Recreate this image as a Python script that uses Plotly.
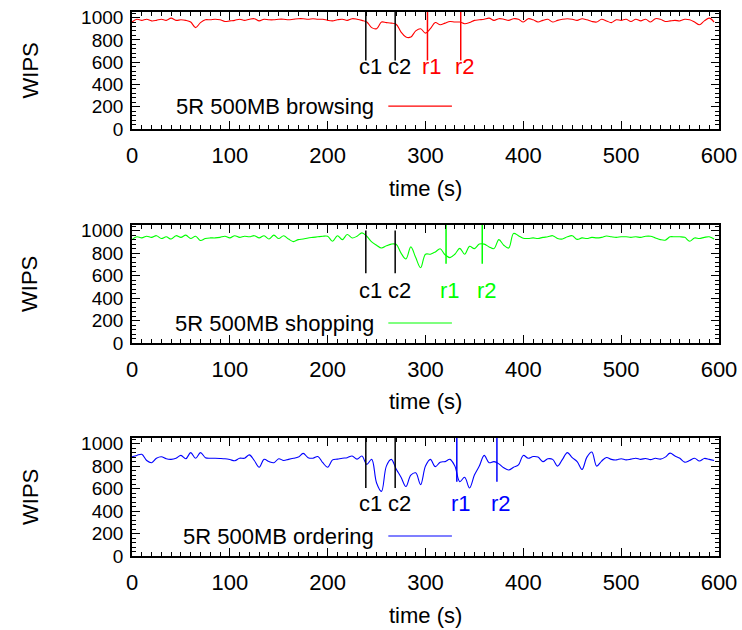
import plotly.graph_objects as go

# ---- data -------------------------------------------------------------
time_s = list(range(0, 600, 5))

browsing = [960, 985, 975, 985, 970, 975, 985, 975, 995, 975,
            980, 975, 960, 910, 955, 980, 980, 985, 980, 965,
            970, 975, 985, 975, 985, 990, 970, 985, 980, 980,
            985, 985, 980, 985, 990, 990, 985, 990, 985, 985,
            975, 970, 980, 985, 975, 990, 985, 975, 960, 910,
            900, 960, 955, 950, 940, 870, 825, 825, 880, 900,
            860, 900, 955, 935, 950, 965, 960, 960, 945, 955,
            975, 980, 985, 995, 975, 990, 985, 975, 990, 985,
            960, 990, 980, 960, 975, 985, 960, 975, 985, 990,
            985, 975, 990, 980, 965, 960, 985, 970, 955, 980,
            975, 985, 965, 985, 970, 985, 960, 990, 985, 965,
            970, 975, 970, 985, 980, 960, 935, 970, 995, 960]

shopping = [920, 945, 935, 950, 940, 955, 930, 945, 925, 955,
            940, 960, 930, 950, 912, 930, 935, 935, 940, 950,
            935, 955, 940, 950, 945, 955, 935, 955, 925, 960,
            930, 955, 925, 902, 920, 925, 935, 940, 945, 950,
            950, 905, 955, 920, 965, 935, 950, 980, 950, 900,
            870, 845, 865, 880, 878, 800, 748, 855, 760, 670,
            790, 790, 810, 838, 785, 760, 790, 842, 790, 860,
            840, 880, 880, 855, 840, 920, 870, 845, 975, 955,
            932, 930, 935, 930, 940, 945, 955, 930, 925, 945,
            955, 922, 935, 930, 940, 935, 940, 952, 945, 940,
            945, 945, 940, 945, 940, 950, 950, 935, 920, 915,
            945, 945, 945, 940, 905, 935, 930, 940, 945, 925]

ordering = [883, 895, 905, 850, 830, 870, 883, 865, 860, 870,
            895, 865, 920, 870, 920, 875, 870, 870, 868, 865,
            858, 848, 870, 870, 900, 850, 790, 860, 840, 830,
            865, 850, 860, 870, 880, 913, 875, 870, 885, 830,
            790, 855, 862, 870, 875, 890, 862, 889, 815, 860,
            650, 575, 800, 860, 775, 700, 618, 720, 740, 635,
            800, 860, 795, 835, 840, 860, 800, 662, 700, 605,
            720, 800, 895, 830, 840, 820, 785, 765, 790, 810,
            895, 870, 885, 880, 840, 865, 860, 800, 860, 920,
            875, 840, 770, 880, 925, 800, 845, 877, 860, 855,
            865, 855, 862, 870, 860, 868, 858, 870, 862, 880,
            915, 890, 870, 835, 850, 870, 845, 868, 860, 850]

event_names = ["c1", "c2", "r1", "r2"]
browsing_events = [239, 269, 302, 336]
shopping_events = [239, 269, 321, 358]
ordering_events = [239, 269, 332, 373]

series_names = ["5R 500MB browsing", "5R 500MB shopping", "5R 500MB ordering"]

# ---- geometry / styling ---------------------------------------------
W, H = 742, 630
FONT = "Liberation Sans, Arial, Helvetica, sans-serif"
FS = 22
FS_Y = 19
X_DOMAIN = [132 / W, 719 / W]
panel_px = [(12, 129), (225, 343), (438, 556)]  # top, bottom in pixels
Y_MAX = 1050

panels = [
    dict(y=browsing, events=browsing_events, color="#ff0000", name=series_names[0],
         top=[1050, 1050, 1050, 1050], bottom=[615, 615, 615, 615], label_y=562, key_y=206),
    dict(y=shopping, events=shopping_events, color="#00ff00", name=series_names[1],
         top=[1000, 1000, 1050, 1050], bottom=[620, 620, 705, 705], label_y=468, key_y=178),
    dict(y=ordering, events=ordering_events, color="#0000ff", name=series_names[2],
         top=[1050, 1050, 1050, 1050], bottom=[605, 605, 660, 660], label_y=468, key_y=178),
]

fig = go.Figure()
layout = dict(
    width=W, height=H, margin=dict(l=0, r=0, t=0, b=0, autoexpand=False),
    paper_bgcolor="white", plot_bgcolor="white",
    showlegend=False, font=dict(family=FONT, size=FS, color="black"),
)

annotations = []

for i, p in enumerate(panels):
    n = "" if i == 0 else str(i + 1)
    xa, ya = "x" + n, "y" + n
    top_px, bot_px = panel_px[i]

    fig.add_trace(go.Scatter(
        x=time_s, y=p["y"], mode="lines", name=p["name"],
        line=dict(color=p["color"], width=1.1, shape="spline", smoothing=1.0),
        xaxis=xa, yaxis=ya, hoverinfo="skip",
    ))

    # event markers
    for k, (ev, t) in enumerate(zip(event_names, p["events"])):
        col = "black" if ev.startswith("c") else p["color"]
        fig.add_trace(go.Scatter(
            x=[t, t], y=[p["top"][k], p["bottom"][k]], mode="lines",
            line=dict(color=col, width=1.5), xaxis=xa, yaxis=ya,
            hoverinfo="skip",
        ))
        annotations.append(dict(
            x=t + 4.5, y=p["label_y"], xref=xa, yref=ya, text=ev,
            showarrow=False, xanchor="center", yanchor="middle",
            font=dict(family=FONT, size=FS, color=col),
        ))

    # key: text followed by a line sample
    annotations.append(dict(
        x=249, y=p["key_y"], xref=xa, yref=ya, text=p["name"],
        showarrow=False, xanchor="right", yanchor="middle",
        font=dict(family=FONT, size=FS, color="black"),
    ))
    fig.add_trace(go.Scatter(
        x=[262, 327], y=[p["key_y"], p["key_y"]], mode="lines",
        line=dict(color=p["color"], width=1.2), xaxis=xa, yaxis=ya,
        hoverinfo="skip",
    ))

    # axis titles
    annotations.append(dict(
        x=30 / W, y=1 - ((top_px + bot_px) / 2) / H, xref="paper", yref="paper",
        text="WIPS", textangle=-90, showarrow=False,
        xanchor="center", yanchor="middle", font=dict(family=FONT, size=FS),
    ))
    annotations.append(dict(
        x=(X_DOMAIN[0] + X_DOMAIN[1]) / 2, y=1 - (bot_px + 59) / H,
        xref="paper", yref="paper", text="time (s)", showarrow=False,
        xanchor="center", yanchor="middle", font=dict(family=FONT, size=FS),
    ))

    dom = [1 - bot_px / H, 1 - top_px / H]
    layout["xaxis" + n] = dict(
        domain=X_DOMAIN, anchor=ya, range=[0, 600], automargin=False,
        tickmode="array", tickvals=[0, 100, 200, 300, 400, 500, 600],
        ticks="inside", ticklen=8, tickwidth=1.3, tickcolor="black",
        ticklabelstandoff=6,
        minor=dict(dtick=10, ticks="inside", ticklen=4, tickwidth=1.2, tickcolor="black"),
        showline=True, linecolor="black", linewidth=1.6, mirror="ticks",
        showgrid=False, zeroline=False,
        tickfont=dict(family=FONT, size=FS, color="black"),
    )
    layout["yaxis" + n] = dict(
        domain=dom, anchor=xa, range=[0, Y_MAX], automargin=False,
        tickmode="array", tickvals=[0, 200, 400, 600, 800, 1000],
        ticks="inside", ticklen=8, tickwidth=1.3, tickcolor="black",
        ticklabelstandoff=3,
        minor=dict(dtick=40, ticks="inside", ticklen=4, tickwidth=1.2, tickcolor="black"),
        showline=True, linecolor="black", linewidth=1.6, mirror="ticks",
        showgrid=False, zeroline=False,
        tickfont=dict(family=FONT, size=FS_Y, color="black"),
    )

layout["annotations"] = annotations
fig.update_layout(**layout)
fig.write_html("out.html")
